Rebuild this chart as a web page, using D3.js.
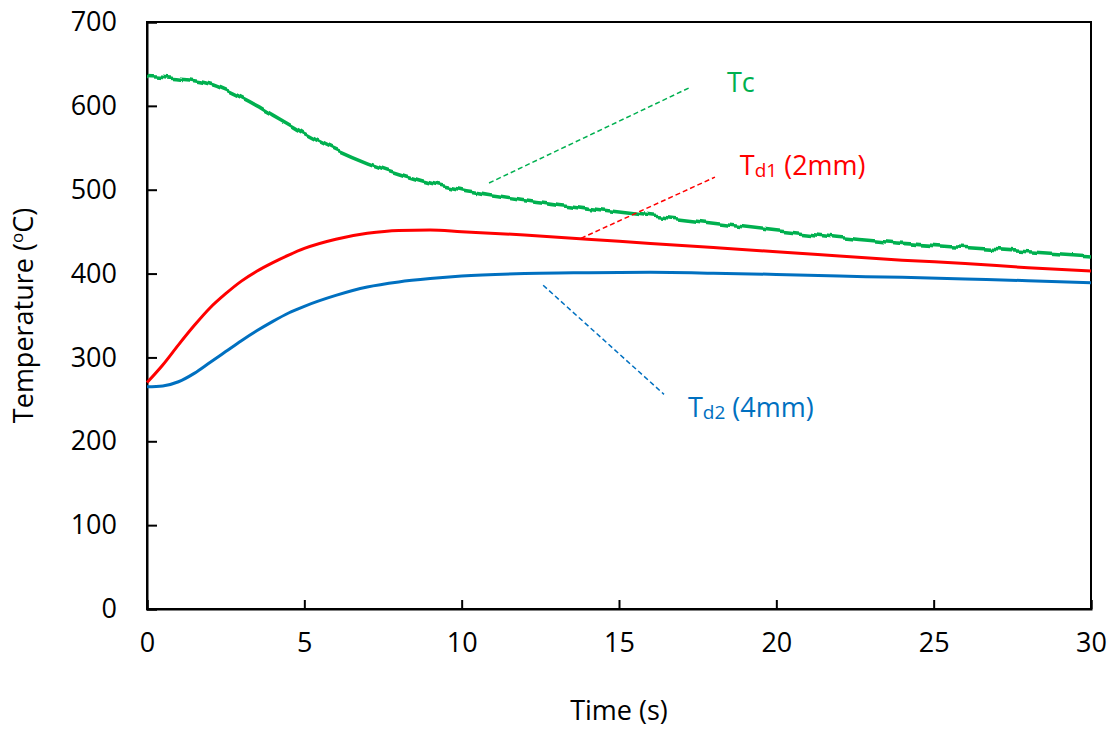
<!DOCTYPE html>
<html>
<head>
<meta charset="utf-8">
<script src="https://cdn.jsdelivr.net/npm/d3@7"></script>
<style>
  body { margin: 0; background: #fff; }
  svg text { font-family: "Open Sans", sans-serif; }
</style>
</head>
<body>
<svg id="chart"></svg>
<script>
// time axis (s)
const times = [0, 0.5, 1, 1.5, 2, 2.5, 3, 3.5, 4, 4.5, 5, 6, 7, 8, 9, 10, 12, 14, 16, 18, 20, 22, 24, 26, 28, 30];
// Tc, core temperature
const tc  = [635, 634, 632, 630, 626, 619, 610, 600, 589, 578, 567, 548, 532, 519, 508, 500, 488, 478, 469, 460, 451, 443, 436, 431, 426, 421];
// Td1 (2mm)
const td1 = [270, 291, 315, 338, 359, 376, 391, 403, 413, 422, 430, 441, 448, 451.5, 452, 450, 446, 441, 436, 431, 426, 421, 416, 412, 407, 403];
// Td2 (4mm)
const td2 = [265, 266, 271, 281, 294, 307, 320, 332, 343, 353, 361, 374, 384, 390, 394, 397, 400, 401, 401.5, 400.5, 399, 397, 395.5, 393.5, 391.5, 389];

const xTicks = [0, 5, 10, 15, 20, 25, 30];
const yTicks = [0, 100, 200, 300, 400, 500, 600, 700];

// annotation labels and leader lines (data coords)
const notes = [
  { name: 'Tc',  sub: '',   rest: '',        color: '#00b050', at: [18.43, 616.5], from: [10.87, 508], to: [17.26, 622] },
  { name: 'T',   sub: 'd1', rest: ' (2mm)',  color: '#ff0000', at: [18.84, 517.5], from: [13.79, 442], to: [18.05, 515] },
  { name: 'T',   sub: 'd2', rest: ' (4mm)',  color: '#0070c0', at: [17.19, 229.4], from: [12.59, 386], to: [16.43, 256] }
];

const width = 1115, height = 730;
const margin = { top: 22, right: 24, bottom: 121, left: 147 };
const fontSize = '27px';

const svg = d3.select('#chart').attr('width', width).attr('height', height);

const x = d3.scaleLinear().domain([0, 30]).range([margin.left, width - margin.right]);
const y = d3.scaleLinear().domain([0, 700]).range([height - margin.bottom, margin.top]);

// small vertical ripple on the Tc trace
const defs = svg.append('defs');
const f = defs.append('filter').attr('id', 'ripple')
  .attr('filterUnits', 'userSpaceOnUse')
  .attr('x', 0).attr('y', 0).attr('width', width).attr('height', height);
f.append('feTurbulence').attr('type', 'fractalNoise')
  .attr('baseFrequency', '0.11 0.002').attr('numOctaves', 1).attr('seed', 5).attr('result', 'noise');
f.append('feColorMatrix').attr('in', 'noise').attr('type', 'matrix')
  .attr('values', '1 0 0 0 0  0 0 0 0 0.5  0 0 0 0 0  0 0 0 0 1').attr('result', 'shift');
f.append('feDisplacementMap').attr('in', 'SourceGraphic').attr('in2', 'shift')
  .attr('scale', 7).attr('xChannelSelector', 'G').attr('yChannelSelector', 'R');

// frame
svg.append('rect')
  .attr('x', x(0)).attr('y', y(700))
  .attr('width', x(30) - x(0)).attr('height', y(0) - y(700))
  .attr('fill', 'none').attr('stroke', '#000').attr('stroke-width', 2);

// axes, ticks pointing inward
const xAxis = svg.append('g')
  .attr('transform', `translate(0,${y(0)})`)
  .call(d3.axisBottom(x).tickValues(xTicks).tickSize(-9).tickPadding(24).tickFormat(d3.format('d')));
const yAxis = svg.append('g')
  .attr('transform', `translate(${x(0)},0)`)
  .call(d3.axisLeft(y).tickValues(yTicks).tickSize(-10).tickPadding(30).tickFormat(d3.format('d')));

[xAxis, yAxis].forEach(a => {
  a.select('.domain').attr('stroke', '#000').attr('stroke-width', 2);
  a.selectAll('.tick line').attr('stroke', '#000').attr('stroke-width', 2);
  a.selectAll('.tick text').attr('fill', '#000').style('font-size', fontSize);
});
xAxis.selectAll('.tick text').attr('dy', '0.71em');

// axis titles
svg.append('text')
  .attr('x', (x(0) + x(30)) / 2).attr('y', 720)
  .attr('text-anchor', 'middle').style('font-size', fontSize)
  .text('Time (s)');

const yt = svg.append('text')
  .attr('transform', `translate(33,${(y(0) + y(700)) / 2}) rotate(-90)`)
  .attr('text-anchor', 'middle').style('font-size', fontSize);
yt.append('tspan').text('Temperature (');
yt.append('tspan').text('o').style('font-size', '17px').attr('dy', -10);
yt.append('tspan').text('C)').attr('dy', 10);

// series
const line = d3.line().x((d, i) => x(times[i])).y(d => y(d)).curve(d3.curveMonotoneX);

svg.append('path').datum(td2)
  .attr('d', line).attr('fill', 'none')
  .attr('stroke', '#0070c0').attr('stroke-width', 3);
svg.append('path').datum(td1)
  .attr('d', line).attr('fill', 'none')
  .attr('stroke', '#ff0000').attr('stroke-width', 3);
svg.append('path').datum(tc)
  .attr('d', line).attr('fill', 'none')
  .attr('stroke', '#00b050').attr('stroke-width', 3.6)
  .attr('filter', 'url(#ripple)');

// annotations
notes.forEach(n => {
  svg.append('line')
    .attr('x1', x(n.from[0])).attr('y1', y(n.from[1]))
    .attr('x2', x(n.to[0])).attr('y2', y(n.to[1]))
    .attr('stroke', n.color).attr('stroke-width', 1.5)
    .attr('stroke-dasharray', '5,3');

  const t = svg.append('text')
    .attr('x', x(n.at[0])).attr('y', y(n.at[1]))
    .attr('fill', n.color).style('font-size', fontSize);
  t.append('tspan').text(n.name);
  if (n.sub) {
    t.append('tspan').text(n.sub).style('font-size', '19px').attr('dy', 2);
    t.append('tspan').text(n.rest).attr('dy', -2);
  }
});
</script>
</body>
</html>
